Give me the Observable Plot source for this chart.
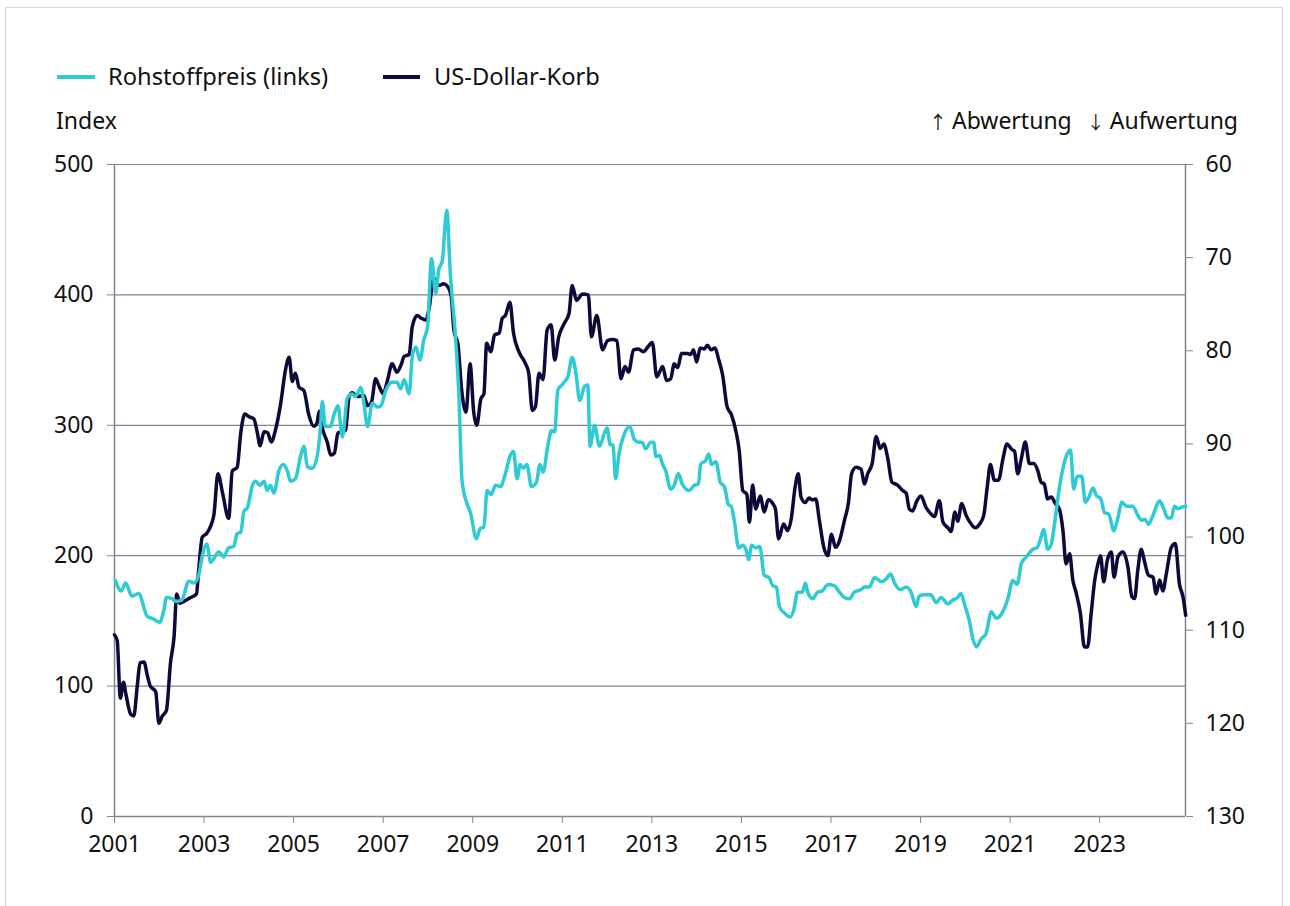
<!DOCTYPE html>
<html>
<head>
<meta charset="utf-8">
<script src="https://cdn.jsdelivr.net/npm/d3@7"></script>
<script src="https://cdn.jsdelivr.net/npm/@observablehq/plot@0.6"></script>
<style>
  html, body { margin: 0; padding: 0; background: #fff; }
  body { width: 1290px; height: 906px; overflow: hidden; position: relative; font-family: "Noto Sans", sans-serif; color: #111; }
  #frame { position: absolute; left: 5px; top: 7px; width: 1278px; height: 910px; border: 1px solid #d6d9dc; box-sizing: border-box; pointer-events: none; }
  #header { position: relative; height: 140px; font-size: 23px; }
  #header .t { position: absolute; line-height: 30px; white-space: nowrap; }
  #header .sw { position: absolute; height: 4px; }
  #header .arr { font-family: "Noto Sans CJK JP", "DejaVu Sans", sans-serif; font-size: 18px; color: #111; }
  #chart svg { display: block; }
</style>
</head>
<body>
<div id="frame"></div>
<div id="header"></div>
<div id="chart"></div>
<script>
// ---------- data ----------
const seriesNames = ["Rohstoffpreis (links)", "US-Dollar-Korb"];
const unitLeft = "Index";
const rightNoteArrows = ["\u2191", "\u2193"];
const rightNoteWords = ["Abwertung", "Aufwertung"];

// Rohstoffpreis (left axis, index), x = decimal year
const rohYear = [2001.02,2001.15,2001.25,2001.39,2001.54,2001.73,2001.84,2002.01,2002.10,2002.16,2002.29,2002.36,2002.50,2002.66,2002.77,2002.88,2002.96,
2003.06,2003.15,2003.33,2003.44,2003.55,2003.66,2003.74,2003.82,2003.89,2003.97,2004.08,2004.15,2004.25,2004.34,2004.41,2004.48,2004.56,2004.67,2004.77,2004.86,2004.93,
2005.04,2005.16,2005.23,2005.31,2005.42,2005.53,2005.60,2005.64,2005.71,2005.82,2005.90,2005.99,2006.09,2006.20,2006.31,2006.38,2006.50,2006.57,2006.65,2006.76,2006.87,2006.95,
2007.06,2007.20,2007.31,2007.39,2007.47,2007.58,2007.65,2007.73,2007.82,2007.91,2007.99,2008.08,2008.17,2008.24,2008.32,2008.42,2008.50,2008.61,2008.69,2008.76,2008.87,2008.95,
2009.08,2009.17,2009.25,2009.32,2009.41,2009.51,2009.62,2009.73,2009.84,2009.91,2009.99,2010.06,2010.13,2010.21,2010.31,2010.42,2010.50,2010.57,2010.68,2010.76,2010.83,2010.90,
2011.02,2011.13,2011.22,2011.30,2011.39,2011.50,2011.57,2011.62,2011.72,2011.83,2011.94,2012.00,2012.07,2012.13,2012.19,2012.27,2012.36,2012.51,2012.61,2012.70,2012.78,2012.86,2012.98,
2013.04,2013.09,2013.17,2013.24,2013.31,2013.42,2013.50,2013.59,2013.68,2013.83,2013.95,2014.04,2014.09,2014.20,2014.27,2014.33,2014.43,2014.53,2014.62,2014.71,2014.77,2014.84,2014.94,
2015.02,2015.10,2015.16,2015.23,2015.32,2015.41,2015.51,2015.62,2015.70,2015.78,2015.85,2015.96,2016.09,2016.18,2016.25,2016.36,2016.43,2016.48,2016.59,2016.70,2016.81,2016.93,
2017.07,2017.19,2017.30,2017.41,2017.52,2017.67,2017.75,2017.86,2017.97,2018.04,2018.12,2018.23,2018.33,2018.42,2018.55,2018.68,2018.79,2018.90,2018.97,
2019.08,2019.23,2019.35,2019.46,2019.61,2019.72,2019.83,2019.90,2019.98,2020.09,2020.17,2020.25,2020.35,2020.46,2020.58,2020.69,2020.80,2020.95,
2021.06,2021.16,2021.25,2021.36,2021.51,2021.60,2021.68,2021.75,2021.84,2021.92,2022.01,2022.10,2022.20,2022.29,2022.35,2022.42,2022.50,2022.60,2022.68,2022.76,2022.85,2022.93,
2023.02,2023.11,2023.20,2023.32,2023.40,2023.50,2023.60,2023.74,2023.85,2023.94,2024.01,2024.09,2024.18,2024.34,2024.43,2024.52,2024.60,2024.67,2024.75,2024.82,2024.92];
const rohValue = [181,173,179,169,171,153.5,152,149,158,168,167,165,166,180.5,179,185,200,
209,195,203,199,206,207,217,218,234,237,254,257,254,257,250,254,248,265,270,265,257,
259,277,284,268,267,277,299,318,299,299,308,315,291,321,324,322,329,317,299,317,314,315,
327,333,333,328,335,324,353,360,350,366,375,428,401,419,426,465,416,370,324,258,240,233,
213,221,222,250,247,254,253,263,277,280,259,270,267,270,253,256,270,264,285,296,295,327,
332,338,352,341,319,330,331,284,300,284,294,298,285,285,259,279,291,299,289,287,287,282,287,
287,276,277,270,265,251,254,263,255,250,254,255,270,273,278,270,272,256,253,239,238,227,206,
208,205,197,208,206,207,185,183,177,176,161,156,153,160,172,172,179,172,167,172,173,178,
177,172,168,167,172,174,176,176,183,182,180,182,186,179,174,176,172,161,169,
170,170,164,168,163,166,168,171,163,150,136,130,136,140,157,152,155,167,
181,178,194,199,205,206,213,220,205,209,229,252,270,279,281,251,261,261,241,245,252,246,
244,233,232,219,228,241,238,238,231,227,228,224,230,242,236,229,229,238,236,237,238];

// US-Dollar-Korb (right axis, inverted), x = decimal year
const usdYear = [2001.00,2001.06,2001.13,2001.20,2001.26,2001.36,2001.43,2001.51,2001.57,2001.66,2001.73,2001.80,2001.92,2001.99,2002.07,2002.16,2002.25,2002.33,2002.39,2002.46,2002.55,2002.70,2002.83,2002.88,2002.96,
2003.06,2003.15,2003.22,2003.31,2003.41,2003.55,2003.63,2003.74,2003.82,2003.91,2004.01,2004.11,2004.19,2004.25,2004.34,2004.42,2004.50,2004.60,2004.71,2004.82,2004.90,2004.97,
2005.04,2005.12,2005.23,2005.34,2005.45,2005.52,2005.57,2005.64,2005.75,2005.83,2005.91,2005.99,2006.08,2006.16,2006.24,2006.31,2006.42,2006.57,2006.65,2006.74,2006.83,2006.90,
2007.00,2007.09,2007.20,2007.31,2007.40,2007.47,2007.58,2007.65,2007.76,2007.85,2007.95,2008.02,2008.13,2008.24,2008.35,2008.44,2008.52,2008.58,2008.67,2008.75,2008.85,2008.94,
2009.02,2009.09,2009.18,2009.25,2009.31,2009.40,2009.49,2009.59,2009.66,2009.73,2009.83,2009.91,2010.03,2010.18,2010.25,2010.33,2010.40,2010.48,2010.57,2010.66,2010.75,2010.83,2010.92,
2011.04,2011.15,2011.22,2011.32,2011.45,2011.58,2011.65,2011.77,2011.90,2012.01,2012.12,2012.22,2012.31,2012.40,2012.48,2012.59,2012.70,2012.81,2012.94,
2013.01,2013.11,2013.18,2013.24,2013.33,2013.42,2013.50,2013.58,2013.66,2013.80,2013.87,2013.93,2014.00,2014.08,2014.17,2014.24,2014.32,2014.41,2014.49,2014.58,2014.68,2014.78,2014.88,2014.95,
2015.03,2015.12,2015.18,2015.25,2015.32,2015.42,2015.51,2015.60,2015.70,2015.76,2015.83,2015.94,2016.03,2016.11,2016.20,2016.27,2016.33,2016.42,2016.51,2016.58,2016.66,2016.74,2016.84,2016.93,
2017.01,2017.10,2017.19,2017.30,2017.39,2017.46,2017.56,2017.67,2017.75,2017.82,2017.92,2018.01,2018.10,2018.18,2018.27,2018.36,2018.48,2018.60,2018.68,2018.75,2018.82,2018.92,
2019.01,2019.12,2019.23,2019.31,2019.42,2019.50,2019.61,2019.68,2019.77,2019.83,2019.92,2020.02,2020.13,2020.22,2020.32,2020.41,2020.49,2020.56,2020.65,2020.74,2020.84,2020.93,
2021.04,2021.10,2021.17,2021.25,2021.34,2021.43,2021.53,2021.62,2021.69,2021.76,2021.84,2021.92,2022.01,2022.10,2022.18,2022.25,2022.33,2022.40,2022.47,2022.57,2022.66,2022.73,2022.81,2022.89,2022.96,
2023.02,2023.09,2023.17,2023.26,2023.32,2023.41,2023.52,2023.63,2023.72,2023.78,2023.85,2023.93,2024.00,2024.09,2024.19,2024.26,2024.34,2024.41,2024.49,2024.60,2024.69,2024.78,2024.86,2024.92];
const usdValue = [110.5,111.1,117.3,115.6,117,119,119.2,115.9,113.5,113.4,114.8,116,116.6,120,119.2,118.6,113.5,110.7,106.1,107.1,106.9,106.5,106.1,103.5,100,
99.6,98.8,97.6,93.2,95.2,98,92.9,92.5,88.8,86.8,87.1,87.3,88.8,90.2,88.7,88.8,89.8,88.4,85.7,82,80.7,83.3,
82.4,83.9,84.3,86.9,88.1,87.8,86.5,88.3,89.8,91.2,91,88.8,88.7,88.5,84.9,84.5,84.9,84.8,85.9,85.5,83,83.7,
84.6,83.3,81.4,82.3,81.5,80.6,80.4,77.4,76.2,76.5,76.7,75.6,72.2,73,72.8,73.1,74.2,77.8,79.3,84.1,86.6,81.4,
86.5,88,85.2,84.6,79.2,80.1,78.3,78.1,76.5,76.2,74.8,78.1,80.1,81.4,82.4,86.4,86,82.4,83.1,77.8,77.2,81,78.5,
77.1,76,73,74.6,73.9,74,78.5,76.2,79.9,78.9,78.8,78.9,83,81.7,82.3,79.9,79.8,80.1,79.4,
79.1,82.8,82.2,81.7,83.2,83,81.4,81.8,80.3,80.3,80.4,79.9,81.2,79.7,79.8,79.4,79.9,79.7,80.9,82.6,86,86.9,88.7,90.7,
95,95.4,98.4,94.4,97,95.6,97.3,96,96.4,97,100.2,98.6,99.3,98.1,94.6,93.2,95.7,96.3,95.8,96,95.9,98.2,101.1,102,
99.7,101.1,100.4,98.2,96.3,93.2,92.5,92.7,94.3,93.2,92.1,89.2,90.5,90,91.6,94.1,94.4,95,95.3,97,97.2,96.1,
95.6,96.8,97.5,97.8,96.1,98.4,99,99.4,97.3,98.3,96.4,97.7,98.6,99,98.6,97.7,94.6,92.2,93.9,93.9,91.6,90,
90.6,90.8,93.2,91.6,89.8,92.1,92.1,92.9,94.1,94.3,95.9,95.7,96.4,97,99.3,102.9,101.8,104.6,105.9,108.2,111.8,111.8,108.2,104.6,102.9,
102,104.8,102.5,101.6,104.3,102.1,101.6,103.2,106.4,106.6,103.6,101.3,102.6,104.1,104.3,106.1,104.6,105.8,103.9,101.1,100.7,105,106.4,108.4];

const xTicks = [2001,2003,2005,2007,2009,2011,2013,2015,2017,2019,2021,2023];
const leftTicks = [0,100,200,300,400,500];
const rightTicks = [60,70,80,90,100,110,120,130];
const xStart = 2001, xEnd = 2024 + 11/12;

// ---------- styling ----------
const cyan = "#2ecbd4";
const navy = "#0b0a3a";
const gridColor = "#7e8791";

// right axis (60 top .. 130 bottom) mapped onto left scale (500 .. 0)
const rLo = 60, rHi = 130, lMax = 500;
const toLeft = r => (rHi - r) * lMax / (rHi - rLo);
const toRight = l => rHi - l * (rHi - rLo) / lMax;

const roh = rohYear.map((x, i) => ({x, y: rohValue[i]}));
const usd = usdYear.map((x, i) => ({x, y: toLeft(usdValue[i])}));

// ---------- header (legend + axis titles) ----------
const header = document.getElementById("header");
function addText(txt, left, top, extra) {
  const s = document.createElement("div");
  s.className = "t"; s.textContent = txt;
  s.style.left = left + "px"; s.style.top = top + "px";
  if (extra) Object.assign(s.style, extra);
  header.appendChild(s); return s;
}
function addSwatch(color, left, width, top) {
  const d = document.createElement("div");
  d.className = "sw"; d.style.background = color;
  d.style.left = left + "px"; d.style.width = width + "px"; d.style.top = top + "px";
  header.appendChild(d);
}
addSwatch(cyan, 57, 38, 75);
addText(seriesNames[0], 108, 61, {fontSize: "23.7px"});
addSwatch(navy, 383, 37, 75);
addText(seriesNames[1], 434, 61, {fontSize: "23.7px"});
addText(unitLeft, 56, 105);
const note = addText("", 0, 105, {left: "auto", right: (1290 - 1238) + "px"});
rightNoteArrows.forEach((a, i) => {
  const ar = document.createElement("span");
  ar.className = "arr"; ar.textContent = a;
  ar.style.marginLeft = i === 0 ? "0px" : "15px";
  ar.style.marginRight = "5px";
  note.appendChild(ar);
  const w = document.createElement("span");
  w.textContent = rightNoteWords[i];
  note.appendChild(w);
});

// ---------- chart ----------
const chart = Plot.plot({
  width: 1290,
  height: 766,
  marginTop: 24,
  marginBottom: 90,
  marginLeft: 114,
  marginRight: 105,
  style: {fontFamily: "'Noto Sans', sans-serif", fontSize: "23px", color: "#111", background: "transparent", overflow: "visible"},
  x: {type: "linear", domain: [xStart, xEnd]},
  y: {domain: [0, lMax]},
  marks: [
    Plot.ruleY(leftTicks.filter(d => d > 0), {stroke: gridColor, strokeWidth: 1.2}),
    Plot.ruleY([0], {stroke: gridColor, strokeWidth: 1.5}),
    Plot.ruleX([xStart, xEnd], {stroke: gridColor, strokeWidth: 1.5}),
    Plot.axisY(leftTicks, {anchor: "left", tickSize: 7, tickPadding: 14, stroke: gridColor, fill: "#111", label: null, tickFormat: d => String(d)}),
    Plot.axisY(rightTicks.map(toLeft), {anchor: "right", tickSize: 7, tickPadding: 13, stroke: gridColor, fill: "#111", label: null, tickFormat: d => String(Math.round(toRight(d)))}),
    Plot.axisX(xTicks, {anchor: "bottom", tickSize: 7, tickPadding: 12, stroke: gridColor, fill: "#111", label: null, tickFormat: d => String(d)}),
    Plot.line(usd, {x: "x", y: "y", stroke: navy, strokeWidth: 3.5, curve: "monotone-x"}),
    Plot.line(roh, {x: "x", y: "y", stroke: cyan, strokeWidth: 3.5, curve: "monotone-x"})
  ]
});
document.getElementById("chart").appendChild(chart);
</script>
</body>
</html>
